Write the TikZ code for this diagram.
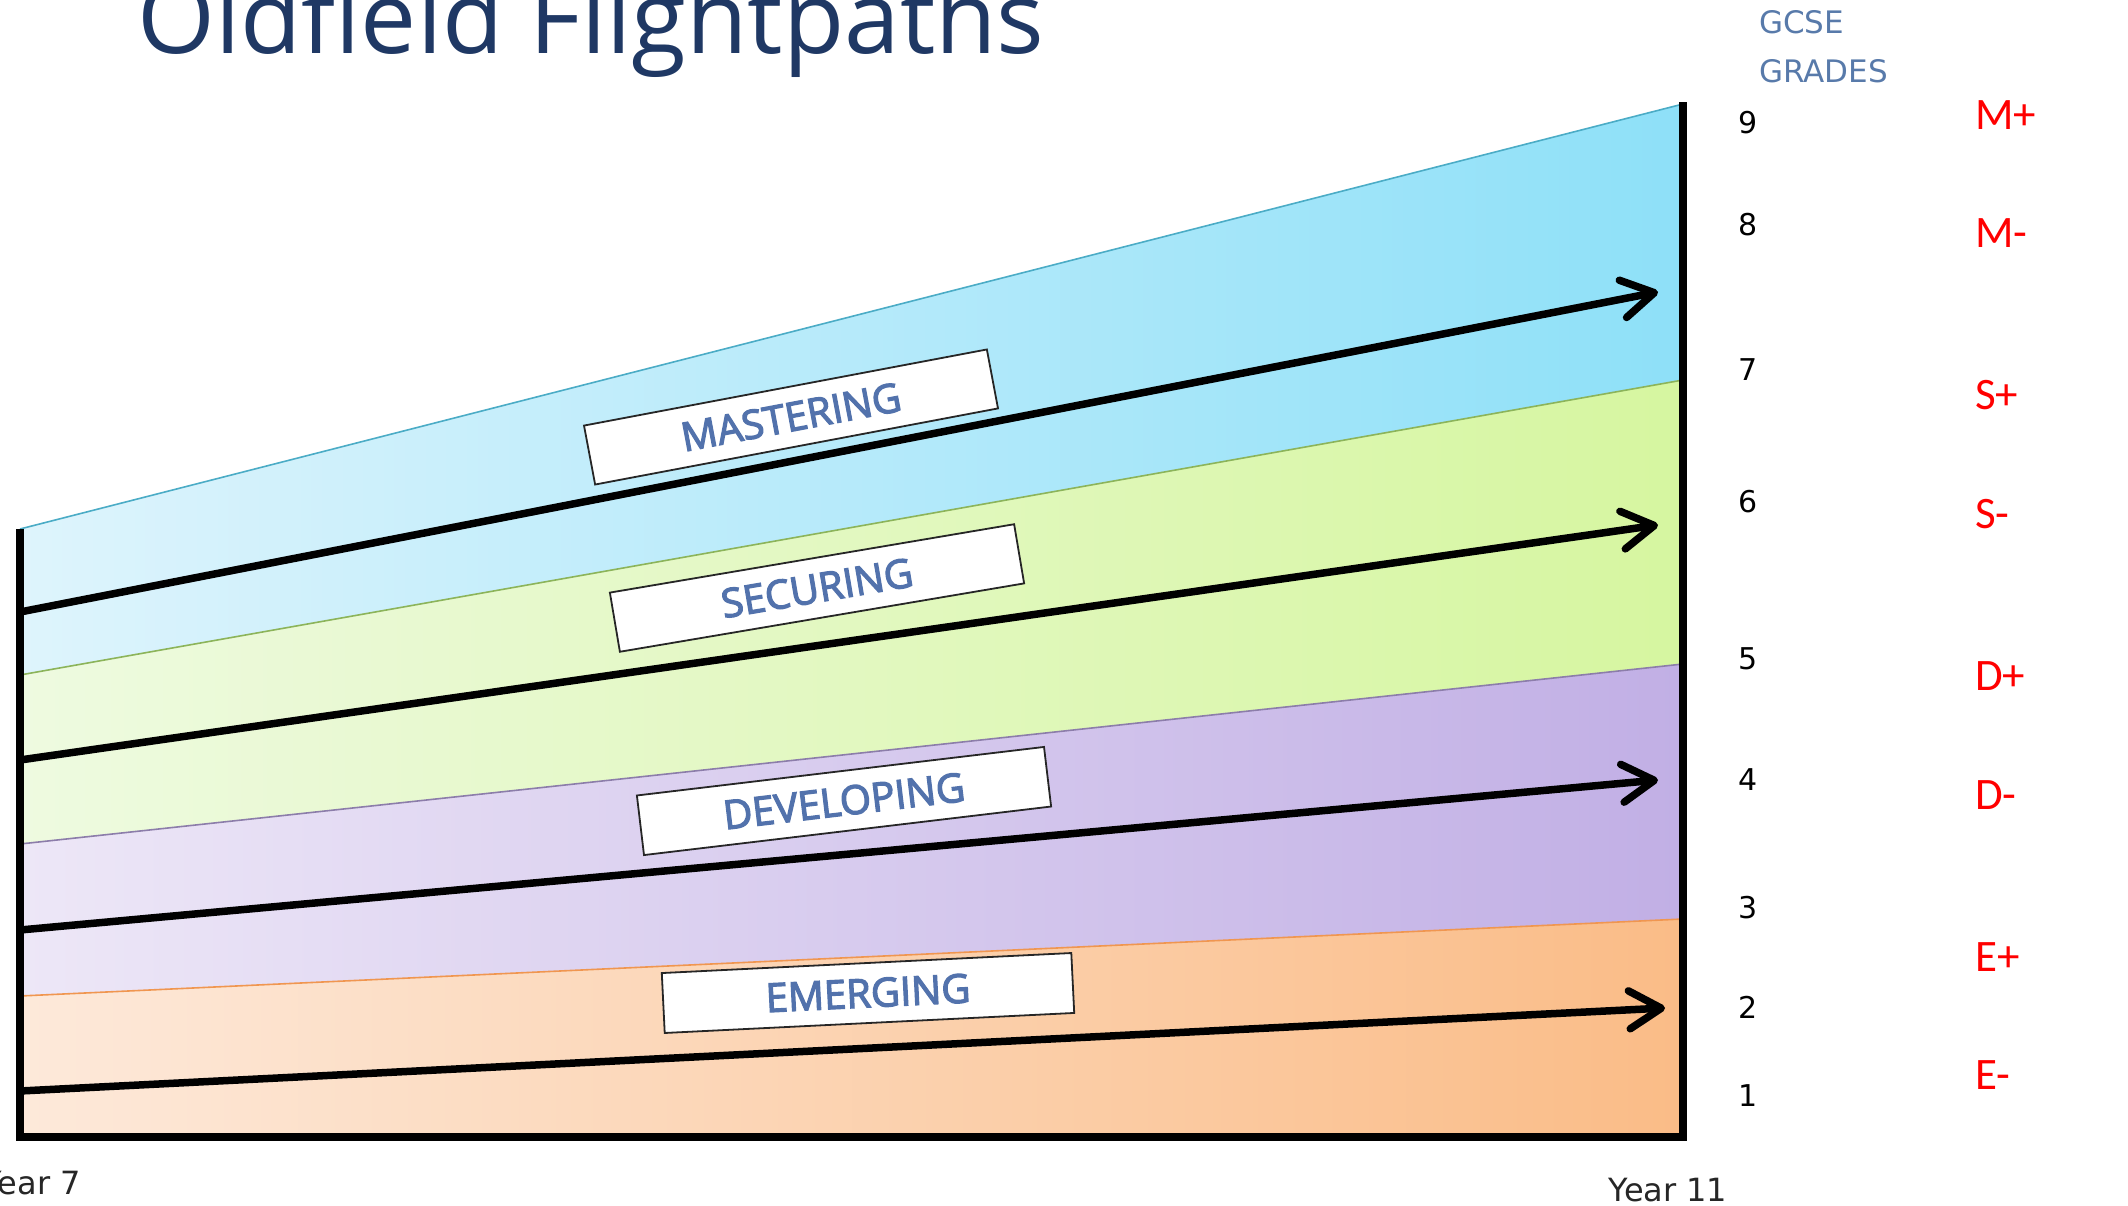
\documentclass[tikz,border=0pt]{standalone}
\usepackage{fontspec}
\setmainfont{DejaVu Sans}
\newfontfamily\titlefont{Open Sans}
\newfontfamily\gradefont{Carlito}
\newfontfamily\bandfont{Open Sans}[FakeBold=3]
\usetikzlibrary{arrows.meta}
\definecolor{titleblue}{RGB}{31,56,100}
\definecolor{gcseblue}{RGB}{88,122,170}
\definecolor{labblue}{RGB}{82,114,172}
\definecolor{gradered}{RGB}{255,0,0}
\definecolor{mastL}{RGB}{222,244,252}
\definecolor{mastR}{RGB}{142,224,248}
\definecolor{secL}{RGB}{238,250,224}
\definecolor{secR}{RGB}{214,246,160}
\definecolor{devL}{RGB}{237,231,247}
\definecolor{devR}{RGB}{193,175,229}
\definecolor{emL}{RGB}{253,233,218}
\definecolor{emR}{RGB}{250,188,135}
\definecolor{mastLine}{RGB}{75,172,198}
\definecolor{secLine}{RGB}{140,180,90}
\definecolor{devLine}{RGB}{140,125,170}
\definecolor{emLine}{RGB}{240,150,80}
\begin{document}
\begin{tikzpicture}[x=1pt,y=-1pt,
  bandedge/.style={line width=1.6pt},
  flight/.style={line width=7.5pt,line cap=round,line join=round,
     -{Straight Barb[length=32pt,width=38pt,line cap=round,line join=round]}},
  axis/.style={line width=8pt,line join=miter},
  bandbox/.style={draw=black!85,line width=1.8pt,fill=white,
     minimum width=410pt,minimum height=60pt,inner sep=0pt,
     font=\bandfont\fontsize{40}{40}\selectfont,text=labblue},
  numlab/.style={inner sep=0pt,font=\fontsize{30}{30}\selectfont,text=black},
  gradelab/.style={inner sep=0pt,anchor=west,font=\gradefont\fontsize{45}{45}\selectfont,text=gradered},
  gcselab/.style={inner sep=0pt,anchor=base west,font=\fontsize{31}{31}\selectfont,text=gcseblue},
  yearlab/.style={inner sep=0pt,font=\fontsize{32}{32}\selectfont,text=black!85}
]
\useasboundingbox (0,0) rectangle (2128,1206);

% band corners
\coordinate (tL) at (20,529);   \coordinate (tR) at (1683,104);
\coordinate (b1L) at (20,675);  \coordinate (b1R) at (1683,380);
\coordinate (b2L) at (20,844);  \coordinate (b2R) at (1683,664);
\coordinate (b3L) at (20,996);  \coordinate (b3R) at (1683,919);
\coordinate (bL) at (20,1137);  \coordinate (bR) at (1683,1137);

% bands
\fill[left color=mastL,right color=mastR] (tL) -- (tR) -- (b1R) -- (b1L) -- cycle;
\fill[left color=secL,right color=secR] (b1L) -- (b1R) -- (b2R) -- (b2L) -- cycle;
\fill[left color=devL,right color=devR] (b2L) -- (b2R) -- (b3R) -- (b3L) -- cycle;
\fill[left color=emL,right color=emR] (b3L) -- (b3R) -- (bR) -- (bL) -- cycle;

% band edges
\draw[bandedge,mastLine] (tL) -- (tR);
\draw[bandedge,secLine] (b1L) -- (b1R);
\draw[bandedge,devLine] (b2L) -- (b2R);
\draw[bandedge,emLine] (b3L) -- (b3R);

% flight path arrows
\coordinate (m0) at (20,612);  \coordinate (m1) at (1658,292);
\coordinate (s0) at (20,760);  \coordinate (s1) at (1658,525);
\coordinate (d0) at (20,930);  \coordinate (d1) at (1658,780);
\coordinate (e0) at (20,1091); \coordinate (e1) at (1665,1008);
\draw[flight] (m0) -- (m1);
\draw[flight] (s0) -- (s1);
\draw[flight] (d0) -- (d1);
\draw[flight] (e0) -- (e1);

% band labels
\node[bandbox,rotate=10.7] (mast) at (791,417) {MASTERING};
\node[bandbox,rotate=9.6] (sec) at (817,588) {SECURING};
\node[bandbox,rotate=6.8] (dev) at (844,801) {DEVELOPING};
\node[bandbox,rotate=2.8] (em) at (868,993) {EMERGING};

% axes
\coordinate (axTop) at (20,529);
\coordinate (axRTop) at (1683,102);
\draw[axis] (axTop) -- (bL) -- (bR) -- (axRTop);

% title
\node[inner sep=0pt,anchor=base west,text=titleblue,
  font=\titlefont\fontsize{100}{100}\selectfont] (title) at (137,54) {Oldfield Flightpaths};

% GCSE grades
\node[gcselab] (gcse) at (1759,34) {GCSE};
\node[gcselab] (grades) at (1759,83) {GRADES};
\node[numlab] (n9) at (1748,123) {9};
\node[numlab] (n8) at (1748,225) {8};
\node[numlab] (n7) at (1748,370) {7};
\node[numlab] (n6) at (1748,502) {6};
\node[numlab] (n5) at (1748,659) {5};
\node[numlab] (n4) at (1748,780) {4};
\node[numlab] (n3) at (1748,908) {3};
\node[numlab] (n2) at (1748,1007) {2};
\node[numlab] (n1) at (1748,1096) {1};

% letter grades
\node[gradelab] (gMp) at (1975,115) {M+};
\node[gradelab] (gMm) at (1975,233) {M-};
\node[gradelab] (gSp) at (1975,395) {S+};
\node[gradelab] (gSm) at (1975,514) {S-};
\node[gradelab] (gDp) at (1975,676) {D+};
\node[gradelab] (gDm) at (1975,795) {D-};
\node[gradelab] (gEp) at (1975,957) {E+};
\node[gradelab] (gEm) at (1975,1075) {E-};

% year labels
\node[yearlab,anchor=base east] (y7) at (81,1194) {Year 7};
\node[yearlab] (y11) at (1668,1190) {Year 11};
\end{tikzpicture}
\end{document}
